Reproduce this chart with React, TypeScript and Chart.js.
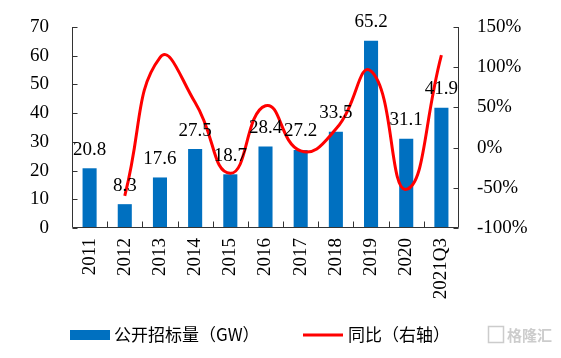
import React, { useEffect, useRef } from "react";
import { Chart, registerables } from "chart.js";

Chart.register(...registerables);

const categories = ["2011", "2012", "2013", "2014", "2015", "2016", "2017", "2018", "2019", "2020", "2021Q3"];
const tenderGW = [20.8, 8.3, 17.6, 27.5, 18.7, 28.4, 27.2, 33.5, 65.2, 31.1, 41.9];
const yoyPct = [null, -60, 112, 56, -32, 52, -4, 23, 95, -52, 115];
const leftTicks = [0, 10, 20, 30, 40, 50, 60, 70];
const rightTicks = [-100, -50, 0, 50, 100, 150];

const BLUE = "#0070C0";
const RED = "#FF0000";
const AXIS = "#333333";
const SERIF = '"Liberation Serif", "Times New Roman", serif';
const CJK = '"Noto Sans CJK SC", sans-serif';

const axesPlugin = {
  id: "innerAxes",
  afterDraw(chart: any) {
    const { ctx, chartArea } = chart;
    const { left, right, top, bottom } = chartArea;
    const y = chart.scales.y;
    const y1 = chart.scales.y1;
    ctx.save();
    ctx.strokeStyle = AXIS;
    ctx.lineWidth = 1;
    ctx.beginPath();
    const L = Math.round(left) + 0.5;
    const R = Math.round(right) - 0.5;
    const B = Math.round(bottom) - 0.5;
    ctx.moveTo(L, Math.round(top));
    ctx.lineTo(L, B);
    ctx.lineTo(R, B);
    ctx.lineTo(R, Math.round(top));
    y.ticks.forEach((t: any) => {
      const py = Math.round(y.getPixelForValue(t.value)) + 0.5;
      ctx.moveTo(L, py);
      ctx.lineTo(L + 5, py);
    });
    y1.ticks.forEach((t: any) => {
      const py = Math.round(y1.getPixelForValue(t.value)) + 0.5;
      ctx.moveTo(R, py);
      ctx.lineTo(R - 5, py);
    });
    const n = categories.length;
    const w = (right - left) / n;
    for (let i = 1; i < n; i++) {
      const px = Math.round(left + w * i) + 0.5;
      ctx.moveTo(px, B);
      ctx.lineTo(px, B - 6);
    }
    ctx.stroke();

    // bar value labels
    const meta = chart.getDatasetMeta(0);
    ctx.fillStyle = "#000";
    ctx.font = `19px ${SERIF}`;
    ctx.textAlign = "center";
    ctx.textBaseline = "bottom";
    meta.data.forEach((el: any, i: number) => {
      ctx.fillText(String(tenderGW[i]), el.x, el.y - 9);
    });

    // legend
    const ly = 335;
    ctx.fillStyle = BLUE;
    ctx.fillRect(70, ly - 5, 40, 10);
    ctx.fillStyle = "#000";
    ctx.font = `17px ${CJK}`;
    ctx.textAlign = "left";
    ctx.textBaseline = "middle";
    ctx.fillText(chart.data.datasets[0].label, 114, ly);
    ctx.strokeStyle = RED;
    ctx.lineWidth = 3;
    ctx.beginPath();
    ctx.moveTo(303, ly);
    ctx.lineTo(343, ly);
    ctx.stroke();
    ctx.fillText(chart.data.datasets[1].label, 348, ly);

    // watermark
    ctx.fillStyle = "rgba(170,170,170,0.6)";
    ctx.font = `bold 15px ${CJK}`;
    ctx.fillText("格隆汇", 507, ly);
    ctx.strokeStyle = "rgba(170,170,170,0.6)";
    ctx.lineWidth = 1.5;
    ctx.strokeRect(488.5, ly - 8.5, 15, 16);
    ctx.restore();
  },
};

export default function App() {
  const ref = useRef<HTMLCanvasElement>(null);
  useEffect(() => {
    if (!ref.current) return;
    let chart: any = null;
    let cancelled = false;
    const build = () => {
      if (cancelled || !ref.current) return;
      chart = new Chart(ref.current, {
        type: "bar",
        data: {
          labels: categories,
          datasets: [
            {
              type: "bar",
              label: "公开招标量（GW）",
              data: tenderGW,
              backgroundColor: BLUE,
              borderWidth: 0,
              barPercentage: 0.4,
              categoryPercentage: 1,
              yAxisID: "y",
              order: 2,
            },
            {
              type: "line",
              label: "同比（右轴）",
              data: yoyPct as any,
              borderColor: RED,
              backgroundColor: RED,
              borderWidth: 3,
              pointRadius: 0,
              tension: 0.5,
              yAxisID: "y1",
              order: 1,
            } as any,
          ],
        },
        options: {
          animation: false,
          responsive: false,
          maintainAspectRatio: false,
          layout: { padding: { top: 27, left: 0, right: 0, bottom: 0 } },
          plugins: { legend: { display: false }, tooltip: { enabled: false } },
          scales: {
            x: {
              grid: { display: false, drawTicks: false },
              border: { display: false },
              ticks: {
                color: "#000",
                font: { family: SERIF, size: 19 },
                minRotation: 90,
                maxRotation: 90,
                padding: 10,
                autoSkip: false,
              },
              afterFit(s: any) {
                s.height = 130;
                s.paddingLeft = 0;
                s.paddingRight = 0;
              },
            },
            y: {
              position: "left",
              min: 0,
              max: 70,
              afterBuildTicks(s: any) {
                s.ticks = leftTicks.map((v) => ({ value: v }));
              },
              grid: { display: false, drawTicks: false },
              border: { display: false },
              ticks: {
                color: "#000",
                font: { family: SERIF, size: 19 },
                padding: 23,
              },
              afterFit(s: any) {
                s.width = 72;
                s.paddingTop = 0;
                s.paddingBottom = 0;
              },
            },
            y1: {
              position: "right",
              min: -100,
              max: 150,
              afterBuildTicks(s: any) {
                s.ticks = rightTicks.map((v) => ({ value: v }));
              },
              grid: { display: false, drawTicks: false },
              border: { display: false },
              ticks: {
                color: "#000",
                font: { family: SERIF, size: 19 },
                padding: 18,
                callback: (v: any) => `${v}%`,
              },
              afterFit(s: any) {
                s.width = 102;
                s.paddingTop = 0;
                s.paddingBottom = 0;
              },
            },
          },
        },
        plugins: [axesPlugin],
      });
    };
    const fonts: any = (document as any).fonts;
    if (fonts && fonts.load) {
      Promise.all([
        fonts.load('19px "Liberation Serif"', "0123456789Q%.-"),
        fonts.load('17px "Noto Sans CJK SC"', "公开招标量同比右轴格隆汇（）GW"),
      ])
        .catch(() => null)
        .then(build);
    } else {
      build();
    }
    return () => {
      cancelled = true;
      if (chart) chart.destroy();
    };
  }, []);
  return (
    <div style={{ position: "fixed", left: 0, top: 0, width: 561, height: 358, background: "#fff" }}>
      <canvas ref={ref} width={561} height={358} style={{ width: 561, height: 358 }} />
    </div>
  );
}
